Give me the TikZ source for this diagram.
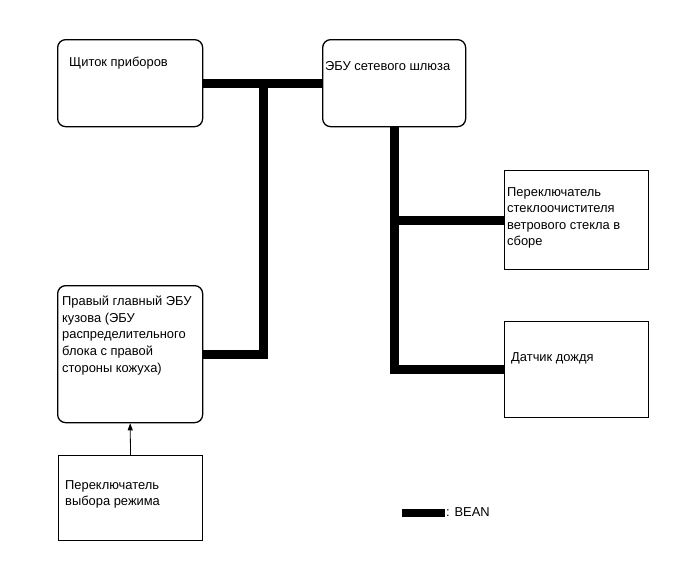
\documentclass[tikz,border=0pt]{standalone}
\usepackage{fontspec}
\setmainfont{Liberation Sans}
\usetikzlibrary{positioning, arrows.meta}

\begin{document}
\begin{tikzpicture}[
  x=1pt, y=-1pt,
  ecu/.style={draw=black, line width=1.3pt, rounded corners=8pt, anchor=north west, inner sep=0pt},
  unit/.style={draw=black, line width=1.1pt, anchor=north west, inner sep=0pt},
  txt/.style={anchor=north west, inner sep=0pt, align=left, font=\fontsize{12.9}{16.6}\selectfont},
  bus/.style={line width=9pt},
  sig/.style={line width=0.8pt, -{Triangle[length=7pt, width=5pt]}}
]
  \useasboundingbox (0,0) rectangle (690,562);

  % boxes
  \node[ecu, minimum width=145pt, minimum height=87pt] (meter) at (57,39) {};
  \node[ecu, minimum width=143pt, minimum height=87pt] (gw) at (322,39) {};
  \node[ecu, minimum width=145pt, minimum height=137pt] (bodyecu) at (57,285) {};
  \node[unit, minimum width=144pt, minimum height=85pt] (modesw) at (58,455) {};
  \node[unit, minimum width=144pt, minimum height=99pt] (wipersw) at (504,170) {};
  \node[unit, minimum width=144pt, minimum height=96pt] (rain) at (504,321) {};

  % texts
  \node[txt] (meter-t) at (69,57) {Щиток приборов};
  \node[txt] (gw-t) at (325,61) {ЭБУ сетевого шлюза};
  \node[txt] (bodyecu-t) at (62,296) {Правый главный ЭБУ\\кузова (ЭБУ\\распределительного\\блока с правой\\стороны кожуха)};
  \node[txt] (modesw-t) at (65,480) {Переключатель\\выбора режима};
  \node[txt] (wipersw-t) at (507,187) {Переключатель\\стеклоочистителя\\ветрового стекла в\\сборе};
  \node[txt] (rain-t) at (511,352) {Датчик дождя};

  % BEAN bus
  \coordinate (j1) at (263,82);
  \draw[bus] (meter.east) -- (gw.west);
  \draw[bus] (j1) |- (bodyecu.east);
  \draw[bus] (gw.south) |- (rain.west);
  \draw[bus] (gw.south |- wipersw.west) -- (wipersw.west);

  \draw[sig] (modesw.north) -- (bodyecu.south);

  % legend
  \coordinate (lg1) at (402,513);
  \coordinate (lg2) at (445,513);
  \draw[line width=8pt] (lg1) -- (lg2);
  \node[txt, anchor=west] (lg-t) at (446,512) {: BEAN};
\end{tikzpicture}
\end{document}
